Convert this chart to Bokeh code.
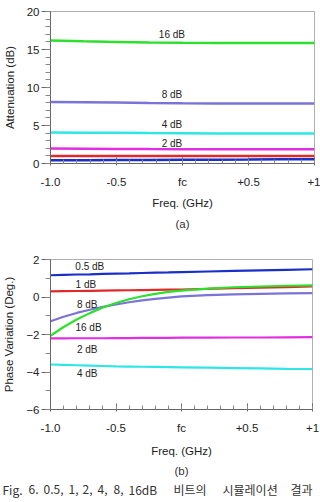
from bokeh.plotting import figure
from bokeh.layouts import column
from bokeh.models import FixedTicker, Range1d, Title
from bokeh.core.properties import value
from bokeh.embed import file_html
from bokeh.resources import INLINE
import numpy as np

# ---- (a) attenuation vs frequency offset ----
freq_a = [-1.0, -0.75, -0.5, -0.25, 0.0, 0.25, 0.5, 0.75, 1.0]
att_16 = [16.20, 16.08, 16.00, 15.93, 15.88, 15.86, 15.85, 15.85, 15.84]
att_8 = [8.08, 8.06, 8.02, 7.96, 7.93, 7.91, 7.90, 7.89, 7.88]
att_4 = [4.07, 4.05, 4.03, 4.00, 3.98, 3.96, 3.95, 3.94, 3.94]
att_2 = [1.97, 1.95, 1.92, 1.90, 1.89, 1.89, 1.88, 1.88, 1.88]
att_1 = [0.98, 0.98, 0.98, 0.98, 0.98, 0.98, 0.98, 0.98, 0.98]
att_05 = [0.44, 0.44, 0.45, 0.46, 0.48, 0.50, 0.52, 0.55, 0.57]

# ---- (b) phase variation vs frequency offset ----
freq_b = [-1.0, -0.9, -0.8, -0.7, -0.6, -0.5, -0.4, -0.3, -0.2, -0.1,
          0.0, 0.2, 0.4, 0.6, 0.8, 1.0]
ph_05 = [1.16, 1.18, 1.20, 1.21, 1.23, 1.25, 1.26, 1.28, 1.30, 1.31,
         1.33, 1.36, 1.39, 1.42, 1.45, 1.48]
ph_1 = [0.30, 0.31, 0.32, 0.33, 0.34, 0.35, 0.36, 0.37, 0.38, 0.39,
        0.40, 0.43, 0.47, 0.50, 0.53, 0.56]
ph_8 = [-1.29, -1.05, -0.85, -0.68, -0.53, -0.40, -0.28, -0.18, -0.10, -0.03,
        0.03, 0.10, 0.14, 0.17, 0.19, 0.21]
ph_16 = [-2.07, -1.60, -1.20, -0.86, -0.56, -0.32, -0.12, 0.04, 0.17, 0.27,
         0.34, 0.45, 0.52, 0.56, 0.60, 0.62]
ph_2 = [-2.21, -2.21, -2.20, -2.20, -2.20, -2.19, -2.19, -2.18, -2.18, -2.18,
        -2.17, -2.17, -2.16, -2.16, -2.15, -2.14]
ph_4 = [-3.60, -3.62, -3.64, -3.66, -3.68, -3.70, -3.71, -3.72, -3.73, -3.74,
        -3.75, -3.77, -3.79, -3.81, -3.83, -3.84]

x_ticks = [-1.0, -0.5, 0.0, 0.5, 1.0]
x_tick_labels = ["-1.0", "-0.5", "fc", "+0.5", "+1"]

# in-plot labels (text, x, y)
labels_a = [("16 dB", -0.08, 17.0), ("8 dB", -0.08, 9.1),
            ("4 dB", -0.08, 5.15), ("2 dB", -0.08, 2.62)]
labels_b = [("0.5 dB", -0.70, 1.64), ("1 dB", -0.73, 0.68),
            ("8 dB", -0.72, -0.39), ("16 dB", -0.71, -1.61),
            ("2 dB", -0.72, -2.80), ("4 dB", -0.72, -4.07)]

GREEN = "#2ee02e"
PURPLE = "#7b74d8"
CYAN = "#2ee6e6"
MAGENTA = "#e22ee2"
RED = "#e02a2a"
BLUE = "#1a2ec8"

FONT = "Liberation Sans"
FIG_W = 320


def style(p, y_ticks, y_minor, x_label, y_label, label_gap):
    p.xaxis.ticker = FixedTicker(ticks=x_ticks,
                                 minor_ticks=list(np.round(np.arange(-1.0, 1.001, 0.1), 2)))
    p.xaxis.major_label_overrides = {t: l for t, l in zip(x_ticks, x_tick_labels)}
    p.yaxis.ticker = FixedTicker(ticks=y_ticks, minor_ticks=y_minor)
    for ax in (p.xaxis[0], p.yaxis[0]):
        ax.axis_line_color = "#666666"
        ax.major_tick_line_color = "#666666"
        ax.minor_tick_line_color = "#888888"
        ax.major_label_text_font = FONT
        ax.major_label_text_font_size = "11.5px"
        ax.major_label_text_color = "#222222"
        ax.axis_label_text_font = FONT
        ax.axis_label_text_font_size = "11.5px"
        ax.axis_label_text_font_style = "normal"
        ax.axis_label_text_color = "#222222"
    p.xaxis.major_tick_in = 6
    p.xaxis.major_tick_out = 2
    p.xaxis.minor_tick_in = 4
    p.xaxis.minor_tick_out = 0
    p.xaxis.major_label_standoff = 10
    p.xaxis.axis_label_standoff = label_gap
    p.yaxis.major_tick_in = 0
    p.yaxis.major_tick_out = 9
    p.yaxis.minor_tick_in = 0
    p.yaxis.minor_tick_out = 5
    p.yaxis.major_label_standoff = 2
    p.yaxis.axis_label_standoff = 8
    p.xaxis.axis_label = x_label
    p.yaxis.axis_label = y_label
    p.xgrid.visible = False
    p.ygrid.visible = False
    p.outline_line_color = "#b0b0b0"
    p.outline_line_width = 1
    p.background_fill_color = "white"
    p.border_fill_color = "white"


def add_labels(p, labels):
    p.text(x=[l[1] for l in labels], y=[l[2] for l in labels],
           text=[l[0] for l in labels], text_font=value(FONT),
           text_font_size="10px", text_color="#222222",
           text_align="center", text_baseline="middle")


def sub_title(p, txt, gap):
    t = Title(text=txt, align="center", text_font=FONT,
              text_font_size="11.5px", text_font_style="normal",
              text_color="#333333", standoff=gap)
    p.add_layout(t, "below")


# ---- figure (a) ----
pa = figure(width=FIG_W, height=238, output_backend="svg", toolbar_location=None,
            x_range=Range1d(-1.0, 1.0), y_range=Range1d(0, 20),
            min_border_left=47, min_border_right=6, min_border_top=11,
            min_border_bottom=75)
style(pa, [0, 5, 10, 15, 20], list(range(0, 21)), "Freq. (GHz)", "Attenuation (dB)", 6)
for ys, c in [(att_05, BLUE), (att_1, RED), (att_2, MAGENTA),
              (att_4, CYAN), (att_8, PURPLE), (att_16, GREEN)]:
    pa.line(freq_a, ys, line_color=c, line_width=2.5)
add_labels(pa, labels_a)
sub_title(pa, "(a)", 8)

# ---- figure (b) ----
pb = figure(width=FIG_W, height=242, output_backend="svg", toolbar_location=None,
            x_range=Range1d(-1.0, 1.0), y_range=Range1d(-6, 2),
            min_border_left=45, min_border_right=8, min_border_top=21,
            min_border_bottom=71)
style(pb, [-6, -4, -2, 0, 2], list(range(-6, 3)), "Freq. (GHz)", "Phase Variation (Deg.)", 8)
for ys, c in [(ph_4, CYAN), (ph_2, MAGENTA), (ph_8, PURPLE),
              (ph_1, RED), (ph_16, GREEN), (ph_05, BLUE)]:
    pb.line(freq_b, ys, line_color=c, line_width=2.2)
add_labels(pb, labels_b)
sub_title(pb, "(b)", 6)

# ---- caption line ----
caption_words = ["Fig.", "6.", "0.5,", "1,", "2,", "4,", "8,", "16dB",
                 "비트의", "시뮬레이션", "결과"]
caption_x = [2, 28, 43, 68, 82, 97, 113, 128, 173, 222, 290]
pc = figure(width=FIG_W, height=22, output_backend="svg", toolbar_location=None,
            x_range=Range1d(0, FIG_W), y_range=Range1d(0, 22),
            x_axis_location=None, y_axis_location=None,
            min_border=0)
pc.grid.visible = False
pc.outline_line_color = None
pc.text(x=caption_x, y=[13] * len(caption_x), text=caption_words,
        text_font=value("Noto Sans CJK KR"), text_font_size="12px",
        text_color="#333333", text_baseline="middle", text_align="left")

layout = column(column(pa), column(pb), column(pc), spacing=0)
open("out.html", "w").write(file_html(layout, INLINE))
